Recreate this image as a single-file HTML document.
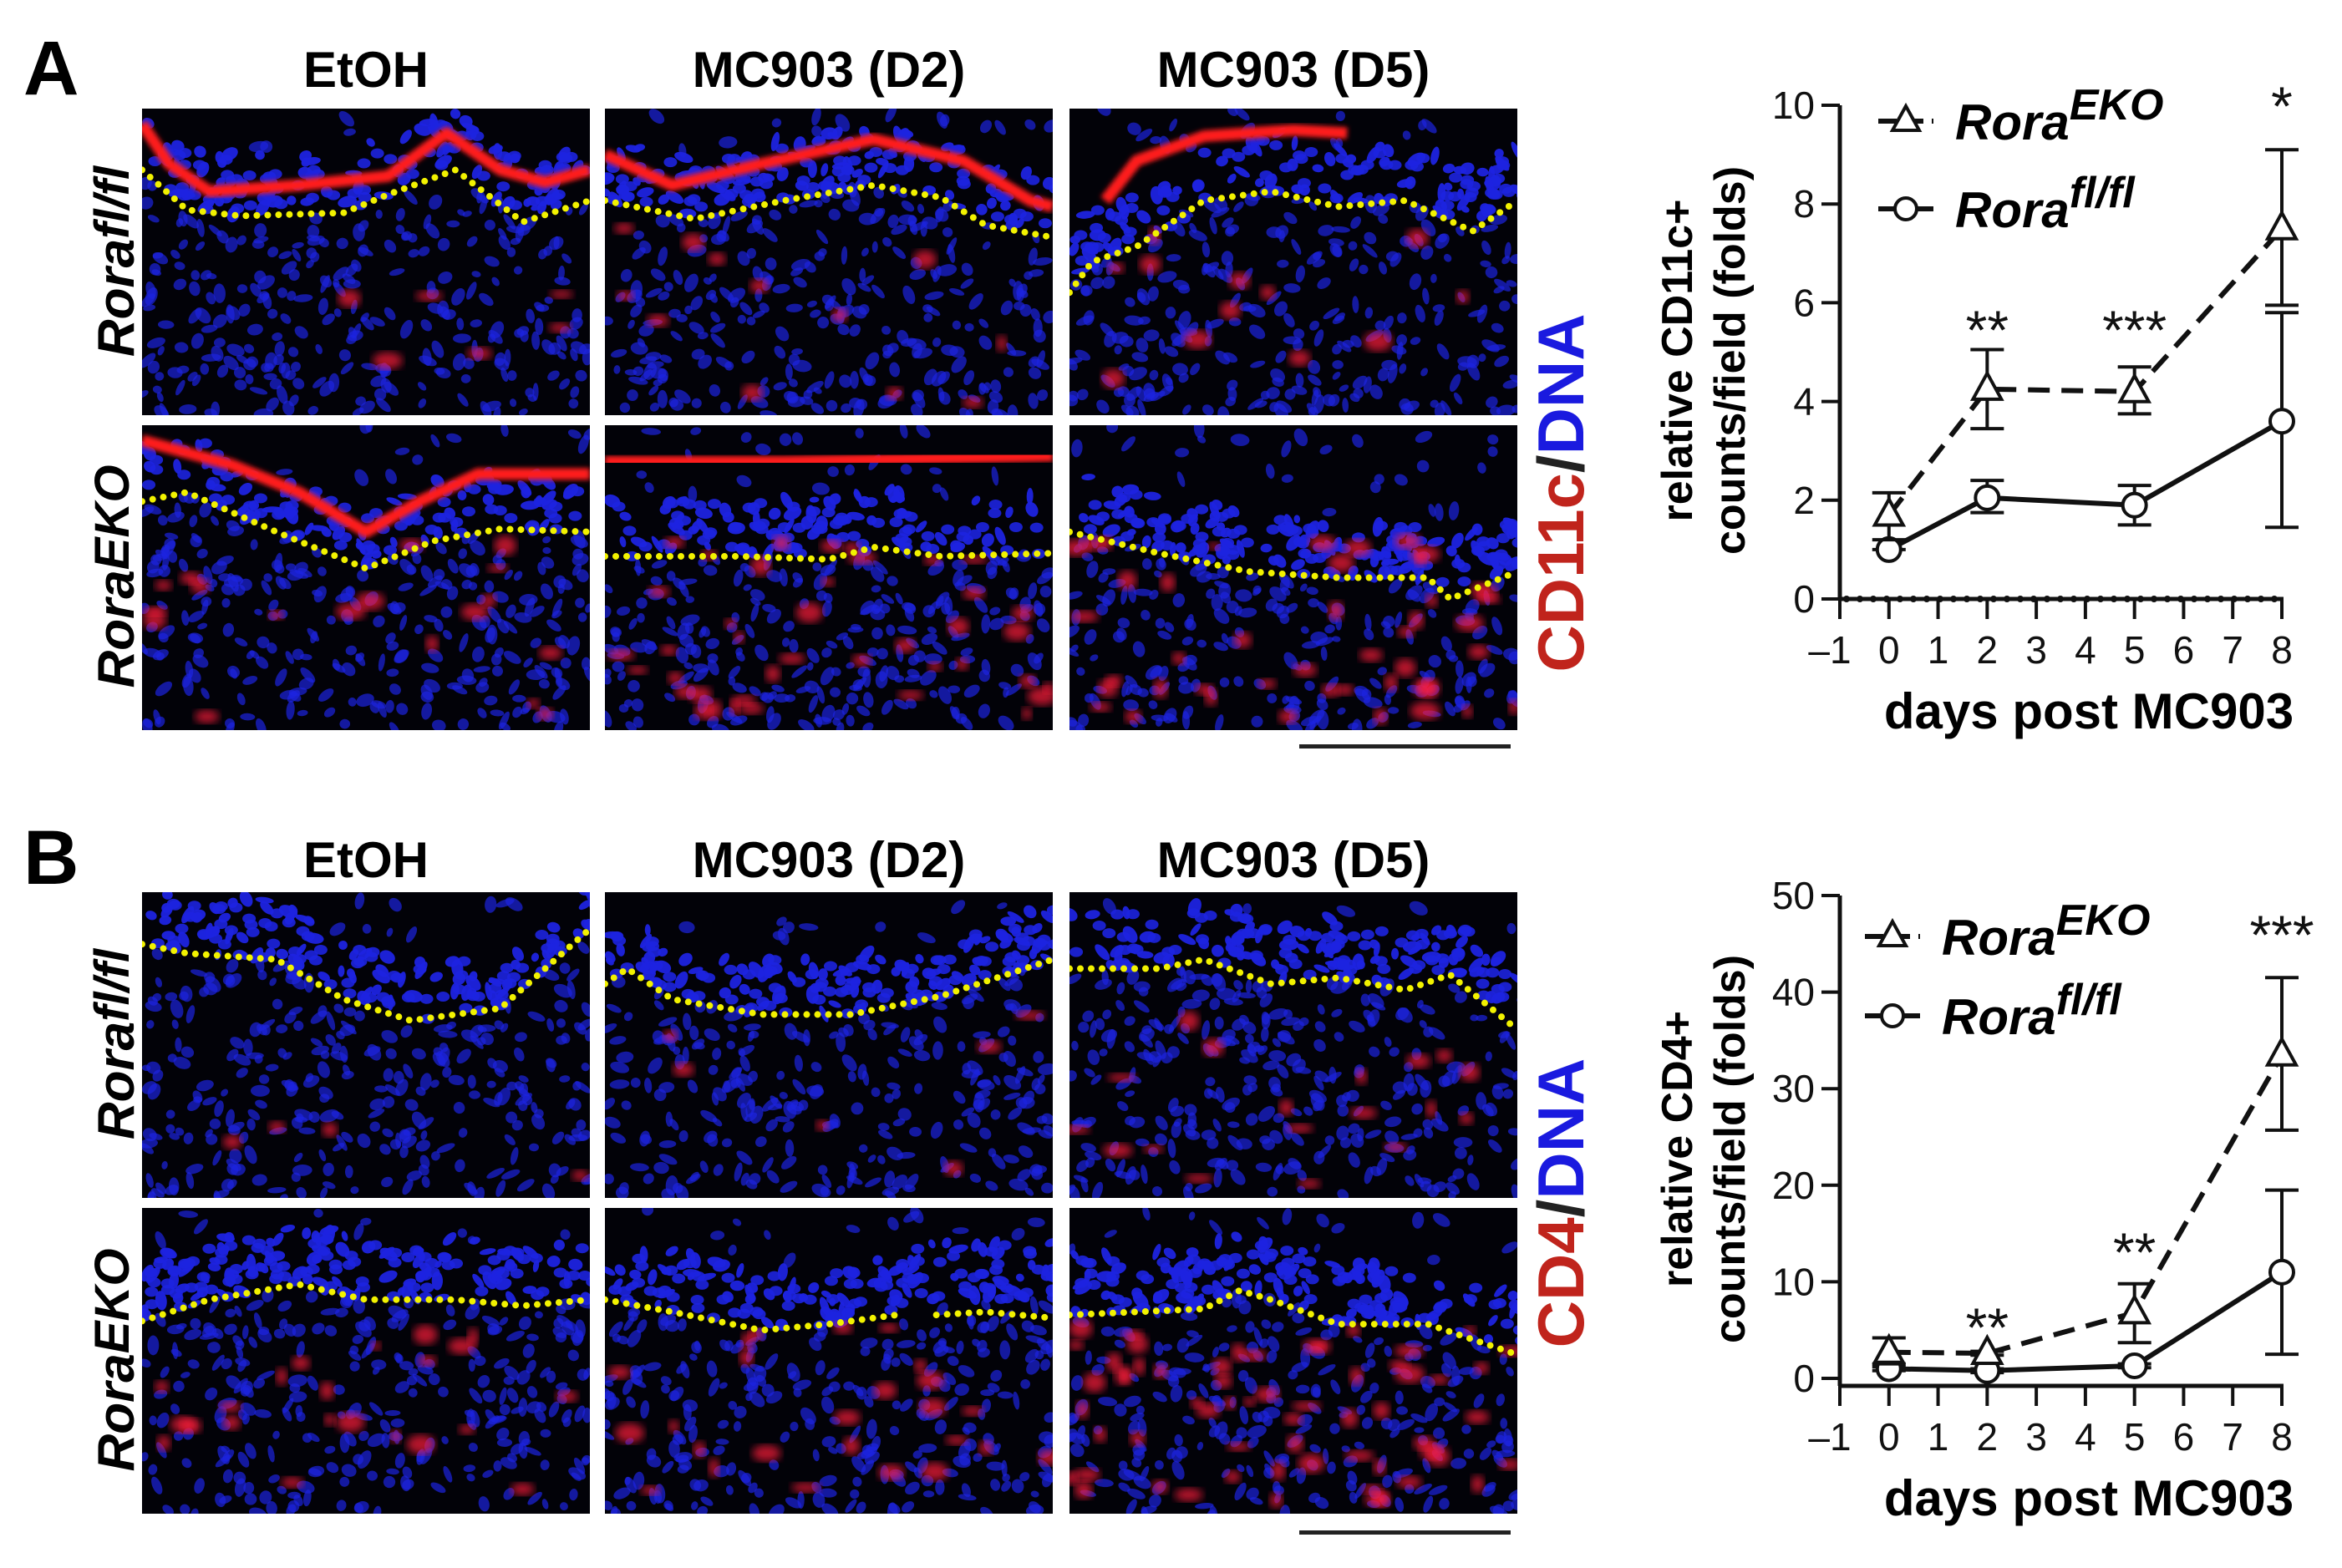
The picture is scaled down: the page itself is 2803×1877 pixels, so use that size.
<!DOCTYPE html>
<html><head><meta charset="utf-8"><style>
html,body{margin:0;padding:0;background:#fff;}
svg{display:block;}
text{font-family:"Liberation Sans",Arial,sans-serif;}
</style></head><body>
<svg id="fig" width="2803" height="1877" viewBox="0 0 2803 1877" xmlns="http://www.w3.org/2000/svg">
<rect width="2803" height="1877" fill="#fff"/>
<defs>
<filter id="blur3"><feGaussianBlur stdDeviation="3"/></filter>
<filter id="blur5"><feGaussianBlur stdDeviation="5"/></filter>
</defs>
<g id="micro"></g>
<text x="28" y="113" font-size="92" font-weight="bold">A</text>
<text x="28" y="1058" font-size="92" font-weight="bold">B</text>
<g font-size="60" font-weight="bold" text-anchor="middle">
<text x="438" y="104">EtOH</text>
<text x="992" y="104">MC903 (D2)</text>
<text x="1548" y="104">MC903 (D5)</text>
<text x="438" y="1050">EtOH</text>
<text x="992" y="1050">MC903 (D2)</text>
<text x="1548" y="1050">MC903 (D5)</text>
</g>
<g font-size="62" font-weight="bold" font-style="italic" text-anchor="middle">
<text transform="translate(160,313) rotate(-90)">Rora<tspan font-size="58" dy="-6">fl/fl</tspan></text>
<text transform="translate(160,690) rotate(-90)">Rora<tspan font-size="58" dy="-6">EKO</tspan></text>
<text transform="translate(160,1250) rotate(-90)">Rora<tspan font-size="58" dy="-6">fl/fl</tspan></text>
<text transform="translate(160,1628) rotate(-90)">Rora<tspan font-size="58" dy="-6">EKO</tspan></text>
</g>
<g font-size="78" font-weight="bold" text-anchor="middle">
<text transform="translate(1895,590) rotate(-90)"><tspan fill="#c0241c">CD11c</tspan><tspan fill="#222">/</tspan><tspan fill="#1a1adf">DNA</tspan></text>
<text transform="translate(1895,1440) rotate(-90)"><tspan fill="#c0241c">CD4</tspan><tspan fill="#222">/</tspan><tspan fill="#1a1adf">DNA</tspan></text>
</g>
<rect x="1555" y="891" width="253" height="5" fill="#222"/>
<rect x="1555" y="1832" width="253" height="5" fill="#222"/>
<g id="chartA"></g>
<g id="chartB"></g>
</svg>
<script>
// ---------- chart data ----------
const days = [0, 2, 5, 8];
const xTicks = [-1, 0, 1, 2, 3, 4, 5, 6, 7, 8];
const xTickLabels = ["\u20131","0","1","2","3","4","5","6","7","8"];
const aTicks = [0, 2, 4, 6, 8, 10];
const aEko = [1.7, 4.25, 4.2, 7.5];
const aEkoLo = [1.2, 3.45, 3.75, 5.95];
const aEkoHi = [2.15, 5.05, 4.7, 9.1];
const aFl = [1.0, 2.05, 1.9, 3.6];
const aFlLo = [1.0, 1.75, 1.5, 1.45];
const aFlHi = [1.0, 2.4, 2.3, 5.8];
const aStars = ["", "**", "***", "*"];
const bTicks = [0, 10, 20, 30, 40, 50];
const bEko = [2.7, 2.6, 6.8, 33.5];
const bEkoLo = [1.5, 2.4, 3.7, 25.7];
const bEkoHi = [4.2, 2.8, 9.8, 41.5];
const bFl = [1.0, 0.8, 1.3, 11.0];
const bFlLo = [0.8, 0.6, 1.1, 2.5];
const bFlHi = [1.2, 1.0, 1.5, 19.5];
const bStars = ["", "**", "**", "***"];

const NS = "http://www.w3.org/2000/svg";
function mk(tag, attrs, parent) {
  const e = document.createElementNS(NS, tag);
  for (const k in attrs) e.setAttribute(k, attrs[k]);
  parent.appendChild(e);
  return e;
}

function drawChart(g, cfg) {
  const xs = d => 2202 + (d + 1) * (2731 - 2202) / 9;
  const ys = v => cfg.y0 - v * (cfg.y0 - cfg.yTop) / cfg.max;
  const axisY = cfg.axisY;
  let e = mk("line", {x1: 2202, x2: 2202, y1: ys(cfg.max), y2: axisY, stroke: "#111", "stroke-width": 5}, g);
  
  
  cfg.ticks.forEach(t => {
    const tl = mk("line", {x1: 2180, x2: 2202, y1: ys(t), y2: ys(t), stroke: "#111", "stroke-width": 4}, g);
    
    
    const tx = mk("text", {x: 2172, y: ys(t) + 16, "font-size": 46, "text-anchor": "end", fill: "#111"}, g);
    tx.textContent = t;
    
    
  });
  e = mk("line", {x1: 2200, x2: 2733, y1: axisY, y2: axisY, stroke: "#111", "stroke-width": 5}, g);
  
  
  if (cfg.dotted) {
    const dl = mk("line", {x1: 2210, x2: 2731, y1: axisY, y2: axisY, stroke: "#111", "stroke-width": 8, "stroke-dasharray": "0 16", "stroke-linecap": "round"}, g);
    
    
  }
  xTicks.forEach((t, i) => {
    const tl = mk("line", {x1: xs(t), x2: xs(t), y1: axisY, y2: axisY + 24, stroke: "#111", "stroke-width": 4}, g);
    
    
    const tx = mk("text", {x: xs(t) - (t < 0 ? 12 : 0), y: axisY + 77, "font-size": 46, "text-anchor": "middle", fill: "#111"}, g);
    tx.textContent = xTickLabels[i];
    
    
  });
  let t = mk("text", {x: 2500, y: axisY + 155, "font-size": 60, "font-weight": "bold", "text-anchor": "middle", fill: "#000"}, g);
  t.textContent = "days post MC903";
  
  
  const mid = (ys(cfg.max) + axisY) / 2 + 10;
  t = mk("text", {transform: `translate(2025,${mid}) rotate(-90)`, "font-size": 52, "font-weight": "bold", "text-anchor": "middle"}, g);
  t.textContent = cfg.ylab1;
  
  
  t = mk("text", {transform: `translate(2088,${mid}) rotate(-90)`, "font-size": 52, "font-weight": "bold", "text-anchor": "middle"}, g);
  t.textContent = cfg.ylab2;
  
  

  function series(vals, lo, hi, dashed, marker, name) {
    const pts = days.map((d, i) => xs(d) + "," + ys(vals[i])).join(" ");
    const pl = mk("polyline", {points: pts, fill: "none", stroke: "#111", "stroke-width": 6, "stroke-dasharray": dashed ? "26 14" : "none"}, g);
    
    
    days.forEach((d, i) => {
      const x = xs(d);
      const eb = mk("path", {d: `M${x},${ys(lo[i])}V${ys(hi[i])}M${x-20},${ys(lo[i])}H${x+20}M${x-20},${ys(hi[i])}H${x+20}`, stroke: "#111", "stroke-width": 4, fill: "none"}, g);
      
      
      const y = ys(vals[i]);
      let m;
      if (marker === "tri") m = mk("polygon", {points: `${x},${y-19} ${x-17},${y+12} ${x+17},${y+12}`, fill: "#fff", stroke: "#111", "stroke-width": 4}, g);
      else m = mk("circle", {cx: x, cy: y, r: 14, fill: "#fff", stroke: "#111", "stroke-width": 4}, g);
      
      
    });
  }
  series(cfg.fl, cfg.flLo, cfg.flHi, false, "circ", "rora-flfl");
  series(cfg.eko, cfg.ekoLo, cfg.ekoHi, true, "tri", "rora-eko");
  days.forEach((d, i) => {
    if (!cfg.stars[i]) return;
    const s = mk("text", {x: xs(d), y: cfg.starY[i], "font-size": 66, "text-anchor": "middle", fill: "#111"}, g);
    s.textContent = cfg.stars[i];
    
    
  });
  const L = cfg.leg;
  [[L.y1, "tri", "EKO", true], [L.y2, "circ", "fl/fl", false]].forEach(([ly, mkr, sup, dash]) => {
    const ll = mk("line", {x1: L.x, x2: L.x + 66, y1: ly, y2: ly, stroke: "#111", "stroke-width": 6, "stroke-dasharray": dash ? "22 10" : "none"}, g);
    
    
    const cx = L.x + 33;
    let m = mkr === "tri" ? mk("polygon", {points: `${cx},${ly-18} ${cx-16},${ly+11} ${cx+16},${ly+11}`, fill: "#fff", stroke: "#111", "stroke-width": 4}, g)
                          : mk("circle", {cx: cx, cy: ly, r: 13, fill: "#fff", stroke: "#111", "stroke-width": 4}, g);
    
    
    const tx = mk("text", {x: L.x + 92, y: ly + 22, "font-size": 60, "font-weight": "bold", "font-style": "italic"}, g);
    tx.innerHTML = `Rora<tspan font-size="52" dy="-24">${sup}</tspan>`;
    
    
  });
}

drawChart(document.getElementById("chartA"), {
  y0: 717, yTop: 126, max: 10, axisY: 717, ticks: aTicks, dotted: true,
  ylab1: "relative CD11c+", ylab2: "counts/field (folds)",
  eko: aEko, ekoLo: aEkoLo, ekoHi: aEkoHi, fl: aFl, flLo: aFlLo, flHi: aFlHi,
  stars: aStars, starY: [0, 418, 418, 150], leg: {x: 2248, y1: 145, y2: 250}
});
drawChart(document.getElementById("chartB"), {
  y0: 1650, yTop: 1072, max: 50, axisY: 1659, ticks: bTicks, dotted: false,
  ylab1: "relative CD4+", ylab2: "counts/field (folds)",
  eko: bEko, ekoLo: bEkoLo, ekoHi: bEkoHi, fl: bFl, flLo: bFlLo, flHi: bFlHi,
  stars: bStars, starY: [0, 1612, 1522, 1142], leg: {x: 2232, y1: 1121, y2: 1216}
});

// ---------- micrographs (decorative) ----------
let seed = 12345;
function rnd() { seed = (seed * 1103515245 + 12345) % 2147483648; return seed / 2147483648; }
const cols = [170, 724, 1280];
const rowsY = [[130, 497], [509, 874], [1068, 1434], [1446, 1812]];
const W = 536;
const yellowLines = [
  [[0,.2],[.1,.33],[.22,.35],[.45,.34],[.55,.28],[.7,.2],[.85,.37],[1,.3]],
  [[0,.3],[.2,.36],[.4,.3],[.6,.25],[.75,.29],[.85,.38],[1,.42]],
  [[0,.6],[.05,.5],[.15,.45],[.3,.3],[.45,.27],[.6,.32],[.75,.3],[.9,.4],[1,.3]],
  [[0,.25],[.1,.22],[.3,.35],[.5,.47],[.65,.38],[.8,.34],[1,.35]],
  [[0,.43],[.3,.43],[.5,.44],[.6,.4],[.75,.43],[1,.42]],
  [[0,.35],[.2,.42],[.4,.48],[.6,.5],[.8,.5],[.85,.57],[1,.48]],
  [[0,.17],[.1,.2],[.3,.22],[.45,.35],[.6,.42],[.8,.38],[1,.12]],
  [[0,.3],[.05,.25],[.15,.35],[.35,.4],[.55,.4],[.75,.34],[1,.22]],
  [[0,.25],[.2,.25],[.3,.22],[.45,.3],[.6,.28],[.75,.32],[.85,.27],[1,.45]],
  [[0,.37],[.15,.3],[.35,.25],[.5,.3],[.7,.3],[.85,.32],[1,.3]],
  [[0,.3],[.15,.34],[.35,.4],[.5,.38],[.65,.35]],
  [[0,.35],[.3,.33],[.38,.27],[.45,.3],[.6,.38],[.8,.38],[1,.48]]
];
const redBands = [
  [[0,.05],[.06,.18],[.15,.27],[.35,.25],[.55,.22],[.68,.08],[.8,.2],[.9,.24],[1,.2]],
  [[0,.15],[.15,.25],[.35,.18],[.6,.1],[.8,.17],[.95,.3],[1,.32]],
  [[.08,.3],[.15,.17],[.3,.09],[.5,.07],[.62,.08]],
  [[0,.05],[.2,.13],[.35,.22],[.5,.35],[.62,.25],[.75,.16],[1,.16]],
  [[0,.12],[.4,.12],[1,.1]],
  null, null, null, null, null, null, null
];
const redCounts = [6, 12, 12, 18, 40, 45, 4, 6, 18, 22, 25, 60];
const micro = document.getElementById("micro");
let idx = 0;
rowsY.forEach(([y0, y1]) => {
  cols.forEach(x0 => {
    const H = y1 - y0;
    const g = mk("g", {}, micro);
    
    
    const cp = mk("clipPath", {id: "cp" + idx}, g);
    mk("rect", {x: x0, y: y0, width: W, height: H}, cp);
    mk("rect", {x: x0, y: y0, width: W, height: H, fill: "#020208"}, g);
    const inner = mk("g", {"clip-path": `url(#cp${idx})`}, g);
    const yl = yellowLines[idx];
    const nuc = mk("g", {fill: "#1d23e0"}, inner);
    for (let k = 0; k < 420; k++) {
      const fx = rnd(), fy = rnd();
      let ly = yl[0][1];
      for (let j = 1; j < yl.length; j++) if (fx <= yl[j][0]) { const a = yl[j-1], b = yl[j]; ly = a[1] + (b[1]-a[1]) * (fx - a[0]) / (b[0]-a[0] || 1); break; }
      if (fy < ly - 0.2 && rnd() < 0.8) continue;
      const dense = fy < ly && fy > ly - 0.2;
      mk("ellipse", {cx: x0 + fx * W, cy: y0 + fy * H, rx: 5 + rnd() * 7, ry: 3.5 + rnd() * 4, transform: `rotate(${rnd()*180} ${x0+fx*W} ${y0+fy*H})`, opacity: dense ? 0.95 : 0.7}, nuc);
      if (dense) mk("ellipse", {cx: x0 + fx * W + 8, cy: y0 + (ly - rnd()*0.18) * H, rx: 8, ry: 6, opacity: 0.9}, nuc);
    }
    const rb = redBands[idx];
    if (rb) {
      const p = rb.map(q => `${x0 + q[0]*W},${y0 + q[1]*H}`).join(" ");
      mk("polyline", {points: p, fill: "none", stroke: "#ff1a1a", "stroke-width": 14, "stroke-linejoin": "round", filter: "url(#blur3)"}, inner);
    }
    for (let k = 0; k < redCounts[idx]; k++) {
      const cx = x0 + rnd() * W, cy = y0 + (0.38 + rnd() * 0.58) * H;
      mk("ellipse", {cx: cx, cy: cy, rx: 6 + rnd() * 12, ry: 5 + rnd() * 7, fill: "#ff1f3a", opacity: 0.7, filter: "url(#blur5)"}, inner);
    }
    const yp = yl.map(q => `${x0 + q[0]*W},${y0 + q[1]*H}`).join(" ");
    const dl = mk("polyline", {points: yp, fill: "none", stroke: "#f2f200", "stroke-width": 8, "stroke-dasharray": "0 13", "stroke-linecap": "round", "stroke-linejoin": "round"}, inner);
    
    
    if (idx === 10) {
      const d2 = mk("polyline", {points: `${x0+.74*W},${y0+.35*H} ${x0+.85*W},${y0+.34*H} ${x0+W},${y0+.36*H}`, fill: "none", stroke: "#f2f200", "stroke-width": 8, "stroke-dasharray": "0 13", "stroke-linecap": "round"}, inner);
      
      
    }
    idx++;
  });
});
</script>
</body></html>
